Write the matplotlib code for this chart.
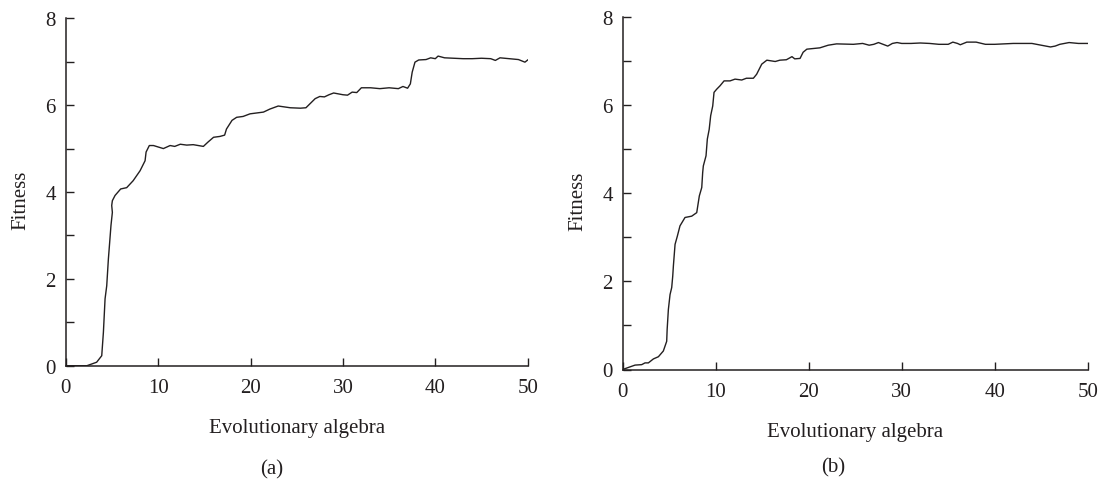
import matplotlib
matplotlib.use("Agg")
import matplotlib.pyplot as plt
from matplotlib.ticker import MultipleLocator

# ---- data ----
gen_a = [0, 2.3, 3.35, 3.9, 4.08, 4.26, 4.44, 4.62, 4.73, 4.9, 5.05, 4.98, 5.05, 5.34, 5.95,
         6.6, 7.3, 8.05, 8.59, 8.7, 9.05, 9.5, 10.57, 11.3, 11.8, 12.4, 13.1, 13.8, 14.9,
         15.4, 16.0, 16.7, 17.2, 17.4, 18.0, 18.5, 19.2, 19.95, 21.4, 22.1, 23.0, 24.3,
         25.4, 26.0, 27.0, 27.5, 28.0, 28.5, 29.0, 30.0, 30.5, 31.0, 31.5, 32.0, 33.0, 34.0,
         35.0, 36.0, 36.5, 37.0, 37.3, 37.5, 37.8, 38.2, 39.0, 39.5, 40.0, 40.3, 41.0, 42.0,
         43.0, 44.0, 45.0, 46.0, 46.5, 47.0, 48.0, 49.0, 49.7, 50.0]
fit_a = [0, 0, 0.08, 0.23, 0.77, 1.54, 1.84, 2.46, 2.76, 3.23, 3.53, 3.69, 3.8, 3.92, 4.07,
         4.1, 4.26, 4.49, 4.72, 4.92, 5.07, 5.07, 5.0, 5.07, 5.05, 5.1, 5.08, 5.09, 5.05,
         5.15, 5.26, 5.28, 5.31, 5.45, 5.65, 5.72, 5.74, 5.8, 5.84, 5.91, 5.98, 5.94,
         5.93, 5.94, 6.15, 6.2, 6.19, 6.24, 6.28, 6.24, 6.23, 6.3, 6.29, 6.4, 6.4, 6.38,
         6.4, 6.38, 6.43, 6.39, 6.49, 6.76, 6.99, 7.04, 7.05, 7.09, 7.07, 7.13, 7.09, 7.08,
         7.07, 7.07, 7.08, 7.07, 7.03, 7.09, 7.07, 7.05, 6.99, 7.04]

gen_b = [0, 0.79, 1.33, 2.04, 2.4, 2.76, 3.3, 3.84, 4.37, 4.73, 4.78, 4.91, 5.09, 5.27, 5.38,
         5.45, 5.56, 5.63, 5.88, 6.16, 6.7, 7.42, 7.96, 8.24, 8.5, 8.6, 8.67, 8.96, 9.1, 9.3,
         9.46, 9.68, 9.82, 10.1, 10.47, 10.9, 11.54, 12.08, 12.8, 13.3, 14.05, 14.4, 14.95,
         15.5, 16.4, 16.9, 17.6, 18.2, 18.5, 19.07, 19.4, 19.8, 21.2, 22.1, 23.0, 24.8, 25.8,
         26.5, 27.0, 27.5, 28.0, 28.5, 29.0, 29.5, 30.0, 31.0, 32.0, 33.0, 34.0, 35.0, 35.5,
         36.0, 36.3, 37.0, 38.0, 39.0, 40.0, 42.0, 44.0, 45.0, 46.0, 46.5, 47.0, 48.0, 49.0,
         50.0]
fit_b = [0, 0.06, 0.1, 0.11, 0.15, 0.15, 0.24, 0.29, 0.42, 0.64, 0.91, 1.36, 1.7, 1.86, 2.12,
         2.35, 2.65, 2.84, 3.03, 3.26, 3.45, 3.48, 3.56, 3.94, 4.13, 4.47, 4.62, 4.85, 5.23,
         5.45, 5.76, 5.98, 6.29, 6.36, 6.44, 6.55, 6.55, 6.59, 6.57, 6.61, 6.61, 6.7, 6.93,
         7.02, 6.99, 7.02, 7.03, 7.1, 7.05, 7.06, 7.2, 7.27, 7.3, 7.36, 7.39, 7.38, 7.40,
         7.36, 7.38, 7.42, 7.38, 7.34, 7.40, 7.42, 7.40, 7.40, 7.41, 7.40, 7.38, 7.38, 7.43,
         7.40, 7.37, 7.43, 7.43, 7.38, 7.38, 7.40, 7.40, 7.36, 7.32, 7.34, 7.38, 7.42, 7.40,
         7.40]

x_ticks = [0, 10, 20, 30, 40, 50]
y_ticks = [0, 2, 4, 6, 8]
x_label = "Evolutionary algebra"
y_label = "Fitness"
panel_labels = ["(a)", "(b)"]

plt.rcParams["font.family"] = ["Liberation Serif", "DejaVu Serif"]
FS = 15
INK = "#231f20"

fig = plt.figure(figsize=(11.02, 4.85), dpi=100)
W, H = 1102.0, 485.0

def px_axes(x0, x1, y_top, y_bot):
    return fig.add_axes([x0 / W, 1 - y_bot / H, (x1 - x0) / W, (y_bot - y_top) / H])

ax_a = px_axes(65.7, 527.7, 19.3, 366.7)
ax_b = px_axes(622.7, 1087.7, 18.0, 370.5)

for ax, g, f in ((ax_a, gen_a, fit_a), (ax_b, gen_b, fit_b)):
    ax.plot(g, f, color=INK, lw=1.0, solid_joinstyle="round")
    ax.set_xlim(0, 50)
    ax.set_ylim(0, 8)
    ax.set_xticks(x_ticks)
    ax.set_yticks(y_ticks)
    ax.yaxis.set_minor_locator(MultipleLocator(1))
    for s in ("top", "right"):
        ax.spines[s].set_visible(False)
    for s in ("left", "bottom"):
        ax.spines[s].set_linewidth(1.1)
        ax.spines[s].set_color(INK)
    ax.tick_params(axis="both", which="both", direction="in", length=6, width=1.0,
                   color=INK, labelcolor=INK, labelsize=FS)
    ax.tick_params(axis="x", pad=9)
    ax.tick_params(axis="y", pad=7)
    ax.set_xlabel(x_label, fontsize=FS, color=INK, labelpad=15)
    ax.set_ylabel(y_label, fontsize=FS, color=INK, labelpad=11)
    ax.yaxis.label.set_y(0.48)
    ax.patch.set_visible(False)

fig.text(272 / W, 1 - 470 / H, panel_labels[0], ha="center", va="center", fontsize=FS, color=INK)
fig.text(833 / W, 1 - 468 / H, panel_labels[1], ha="center", va="center", fontsize=FS, color=INK)

fig.savefig("out.png", dpi=100)
